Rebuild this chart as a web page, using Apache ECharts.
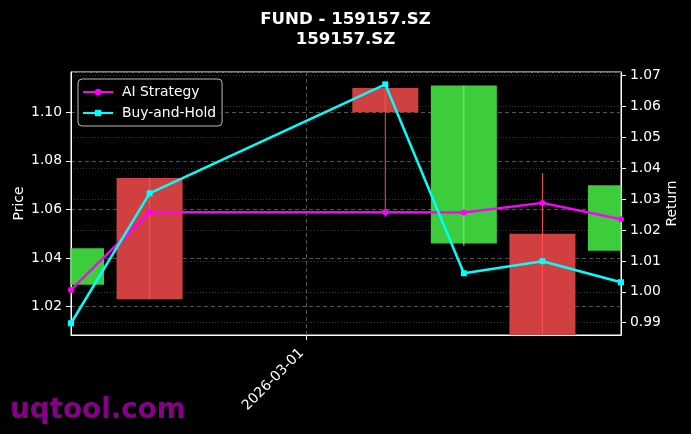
<!DOCTYPE html>
<html>
<head>
<meta charset="utf-8">
<script src="https://cdn.jsdelivr.net/npm/echarts@6/dist/echarts.min.js"></script>
<style>
  html, body { margin: 0; padding: 0; background: #000; }
  #chart { width: 691px; height: 434px; }
</style>
</head>
<body>
<div id="chart"></div>
<script>
// calendar days on the x axis (weekend has no bar)
const calendarDays = ['2026-02-26', '2026-02-27', '2026-02-28', '2026-03-01',
  '2026-03-02', '2026-03-03', '2026-03-04', '2026-03-05'];
const tradeDates = ['2026-02-26', '2026-02-27', '2026-03-02', '2026-03-03', '2026-03-04', '2026-03-05'];

// OHLC
const openPrice  = [1.029, 1.073, 1.110, 1.046, 1.050, 1.043];
const closePrice = [1.044, 1.023, 1.100, 1.111, 1.004, 1.070];
const lowPrice   = [1.029, 1.023, 1.057, 1.045, 1.002, 1.043];
const highPrice  = [1.044, 1.073, 1.110, 1.111, 1.075, 1.070];

// cumulative returns
const aiStrategy = [1.0006, 1.0258, 1.0258, 1.0257, 1.0288, 1.0235];
const buyAndHold = [0.9898, 1.0319, 1.0672, 1.0060, 1.0099, 1.0031];

const FONT = 'DejaVu Sans';
const FS = 13.9;

function onCalendar(values) {
  return calendarDays.map(d => {
    const i = tradeDates.indexOf(d);
    return i < 0 ? '-' : values[i];
  });
}

const candles = tradeDates.map((d, i) =>
  [calendarDays.indexOf(d), openPrice[i], closePrice[i], lowPrice[i], highPrice[i]]);

function renderCandle(params, api) {
  const x = api.value(0);
  const o = api.value(1), c = api.value(2), l = api.value(3), h = api.value(4);
  const pO = api.coord([x, o]);
  const pC = api.coord([x, c]);
  const pL = api.coord([x, l]);
  const pH = api.coord([x, h]);
  const w = api.size([1, 0])[0] * 0.84;
  const up = c >= o;
  const cs = params.coordSys;
  const body = echarts.graphic.clipRectByRect({
    x: pO[0] - w / 2,
    y: Math.min(pO[1], pC[1]),
    width: w,
    height: Math.abs(pO[1] - pC[1])
  }, cs);
  const wick = echarts.graphic.clipPointsByRect([pH.slice(), pL.slice()], cs);
  const children = [];
  if (body) {
    children.push({
      type: 'rect', shape: body,
      style: { fill: up ? '#3ccc3c' : '#d04040' }
    });
  }
  if (wick) {
    children.push({
      type: 'line',
      shape: { x1: wick[0][0], y1: wick[0][1], x2: wick[1][0], y2: wick[1][1] },
      style: { stroke: up ? '#66ff66' : '#ff5050', lineWidth: 1 }
    });
  }
  return { type: 'group', children };
}

const chart = echarts.init(document.getElementById('chart'));

chart.setOption({
  backgroundColor: '#000',
  animation: false,
  textStyle: { fontFamily: FONT },
  title: {
    text: 'FUND - 159157.SZ\n159157.SZ',
    left: 'center',
    top: 4,
    textStyle: { color: '#fff', fontSize: 16.6, fontWeight: 'bold', lineHeight: 20.5, fontFamily: FONT }
  },
  legend: {
    left: 78,
    top: 79,
    orient: 'vertical',
    data: ['AI Strategy', 'Buy-and-Hold'],
    backgroundColor: 'rgba(0,0,0,0.8)',
    borderColor: '#bbb',
    borderWidth: 1,
    borderRadius: 4,
    padding: [6, 6, 6, 4],
    itemWidth: 30,
    itemHeight: 8,
    itemGap: 7,
    textStyle: { color: '#fff', fontSize: FS, fontFamily: FONT, padding: [0, 0, 0, 4] }
  },
  graphic: [{
    type: 'text',
    left: 10,
    top: 397,
    style: { text: 'uqtool.com', fill: '#870087', font: 'bold 27.8px "DejaVu Sans"' }
  }],
  grid: {
    left: 71, right: 70, top: 72, bottom: 99,
    outerBoundsMode: 'none',
    containLabel: false,
    show: true, borderColor: '#fff', borderWidth: 1, backgroundColor: 'transparent'
  },
  xAxis: {
    type: 'category',
    data: calendarDays,
    boundaryGap: false,
    axisLine: { lineStyle: { color: '#fff' } },
    axisTick: {
      length: 5,
      lineStyle: { color: '#fff' },
      interval: (i, v) => v === '2026-03-01'
    },
    axisLabel: {
      color: '#fff', fontSize: FS, rotate: 45, margin: 21, verticalAlign: 'bottom',
      interval: (i, v) => v === '2026-03-01'
    },
    splitLine: {
      show: true,
      interval: (i, v) => v === '2026-03-01',
      lineStyle: { color: '#555', type: [4, 3] }
    }
  },
  yAxis: [{
    type: 'value',
    name: 'Price',
    nameLocation: 'middle',
    nameGap: 45,
    nameMoveOverlap: false,
    nameTextStyle: { color: '#fff', fontSize: FS },
    min: 1.0083,
    max: 1.1166,
    minInterval: 0.02,
    maxInterval: 0.02,
    axisLine: { show: true, lineStyle: { color: '#fff' } },
    axisTick: { show: true, length: 5, lineStyle: { color: '#fff' } },
    axisLabel: {
      color: '#fff', fontSize: FS, margin: 9, showMinLabel: false, showMaxLabel: false,
      formatter: v => v.toFixed(2)
    },
    splitLine: { lineStyle: { color: '#555', type: [4, 3] } }
  }, {
    type: 'value',
    name: 'Return',
    nameLocation: 'middle',
    nameGap: 44,
    nameMoveOverlap: false,
    nameTextStyle: { color: '#fff', fontSize: FS },
    position: 'right',
    min: 0.9860,
    max: 1.0712,
    minInterval: 0.01,
    maxInterval: 0.01,
    axisLine: { show: true, lineStyle: { color: '#fff' } },
    axisTick: { show: true, length: 5, lineStyle: { color: '#fff' } },
    axisLabel: {
      color: '#fff', fontSize: FS, margin: 9, showMinLabel: false, showMaxLabel: false,
      formatter: v => v.toFixed(2)
    },
    splitLine: { lineStyle: { color: '#3a3a3a', type: [1, 2] } }
  }],
  series: [{
    type: 'custom',
    name: 'Price',
    data: candles,
    encode: { x: 0, y: [1, 2, 3, 4] },
    renderItem: renderCandle,
    z: 1
  }, {
    type: 'line',
    name: 'AI Strategy',
    yAxisIndex: 1,
    data: onCalendar(aiStrategy),
    connectNulls: true,
    symbol: 'circle',
    symbolSize: 6,
    color: '#ff00ff',
    lineStyle: { width: 2.5, color: '#ff00ff' },
    itemStyle: { color: '#ff00ff' },
    clip: true,
    z: 3
  }, {
    type: 'line',
    name: 'Buy-and-Hold',
    yAxisIndex: 1,
    data: onCalendar(buyAndHold),
    connectNulls: true,
    symbol: 'rect',
    symbolSize: 6,
    color: '#00ffff',
    lineStyle: { width: 2.5, color: '#00ffff' },
    itemStyle: { color: '#00ffff' },
    clip: true,
    z: 3
  }]
});
</script>
</body>
</html>
